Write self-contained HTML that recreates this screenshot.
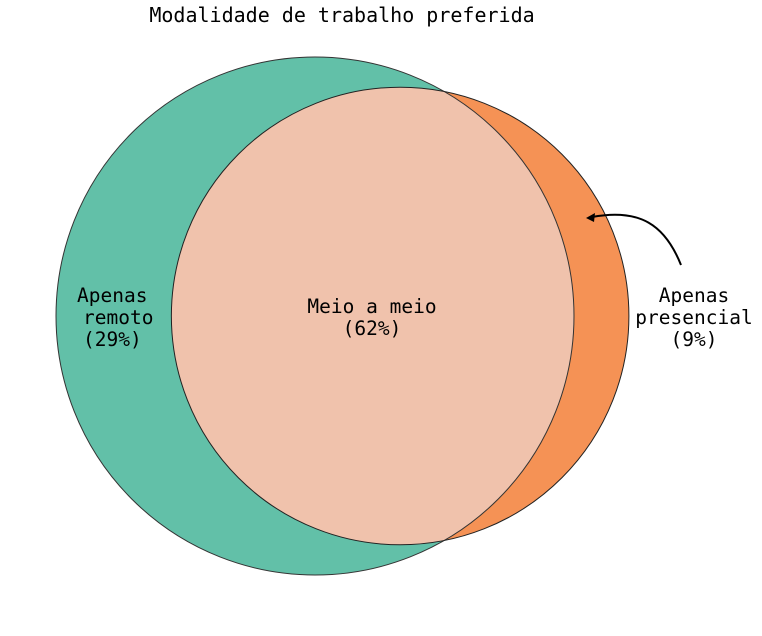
<!DOCTYPE html>
<html><head><meta charset="utf-8"><style>
html,body{margin:0;padding:0;background:#fff;}
svg text{font-family:"DejaVu Sans Mono","Liberation Mono",monospace;font-size:19.5px;fill:#000;}
svg text.title{font-size:20px;}
</style></head><body>
<svg width="762" height="631" viewBox="0 0 762 631">
<text class="title" x="342" y="22" text-anchor="middle">Modalidade de trabalho preferida</text>
<g id="venn"></g>
</svg>
<script>
const setNames = ["Apenas remoto", "Apenas presencial", "Meio a meio"];
const setValues = [29, 9, 62];
const setColors = ["#62c0a8", "#f59255", "#f0c2ac"];

const NS = "http://www.w3.org/2000/svg";
const g = document.getElementById("venn");
const k = 27.15;
const aTot = setValues[0] + setValues[2];
const bTot = setValues[1] + setValues[2];
const rA = k * Math.sqrt(aTot), rB = k * Math.sqrt(bTot);
function overlap(d){
  if (d >= rA + rB) return 0;
  if (d <= Math.abs(rA - rB)) return Math.PI * Math.min(rA, rB) ** 2;
  const a = rA*rA*Math.acos((d*d + rA*rA - rB*rB)/(2*d*rA));
  const b = rB*rB*Math.acos((d*d + rB*rB - rA*rA)/(2*d*rB));
  const c = 0.5*Math.sqrt((-d+rA+rB)*(d+rA-rB)*(d-rA+rB)*(d+rA+rB));
  return a + b - c;
}
const target = Math.PI * k * k * setValues[2];
let lo = Math.abs(rA - rB), hi = rA + rB;
for (let i = 0; i < 60; i++){ const m = (lo+hi)/2; if (overlap(m) > target) lo = m; else hi = m; }
const d = (lo + hi) / 2;
const cy = 316, cxA = 315, cxB = cxA + d;

function el(tag, attrs){ const e = document.createElementNS(NS, tag); for (const a in attrs) e.setAttribute(a, attrs[a]); return e; }

const defs = el("defs", {});
const clip = el("clipPath", {id: "clipA"});
clip.appendChild(el("circle", {cx: cxA, cy: cy, r: rA}));
defs.appendChild(clip);
g.appendChild(defs);

const cA = el("circle", {cx: cxA, cy: cy, r: rA, fill: setColors[0]});


g.appendChild(cA);
const cB = el("circle", {cx: cxB, cy: cy, r: rB, fill: setColors[1]});


g.appendChild(cB);
const inter = el("circle", {cx: cxB, cy: cy, r: rB, fill: setColors[2], "clip-path": "url(#clipA)"});


g.appendChild(inter);
const oA = el("circle", {cx: cxA, cy: cy, r: rA, fill: "none", stroke: "#333", "stroke-width": 1});


g.appendChild(oA);
const oB = el("circle", {cx: cxB, cy: cy, r: rB, fill: "none", stroke: "#222", "stroke-width": 1});


g.appendChild(oB);

function label(lines, name){
  const t = el("text", {});
  
  
  lines.forEach(l => { const s = el("tspan", {x: l[0], y: l[1]}); s.textContent = l[2]; t.appendChild(s); });
  g.appendChild(t);
}
label([[77,302,"Apenas"],[83,324,"remoto"],[83,346,"(" + setValues[0] + "%)"]], "label-remoto");
const mid = el("text", {"text-anchor": "middle"});


[[313,"Meio a meio"],[335,"(" + setValues[2] + "%)"]].forEach(l => { const s = el("tspan", {x: 372, y: l[0]}); s.textContent = l[1]; mid.appendChild(s); });
g.appendChild(mid);
const pr = el("text", {"text-anchor": "middle"});


[[302,"Apenas"],[324,"presencial"],[346,"(" + setValues[1] + "%)"]].forEach(l => { const s = el("tspan", {x: 694, y: l[0]}); s.textContent = l[1]; pr.appendChild(s); });
g.appendChild(pr);

const arrow = el("path", {d: "M681,265 C665,225 640,208 592,217", fill: "none", stroke: "#000", "stroke-width": 2});


g.appendChild(arrow);
const head = el("path", {d: "M586,218 L595,213 L594,222 Z", fill: "#000"});


g.appendChild(head);
</script>
</body></html>
